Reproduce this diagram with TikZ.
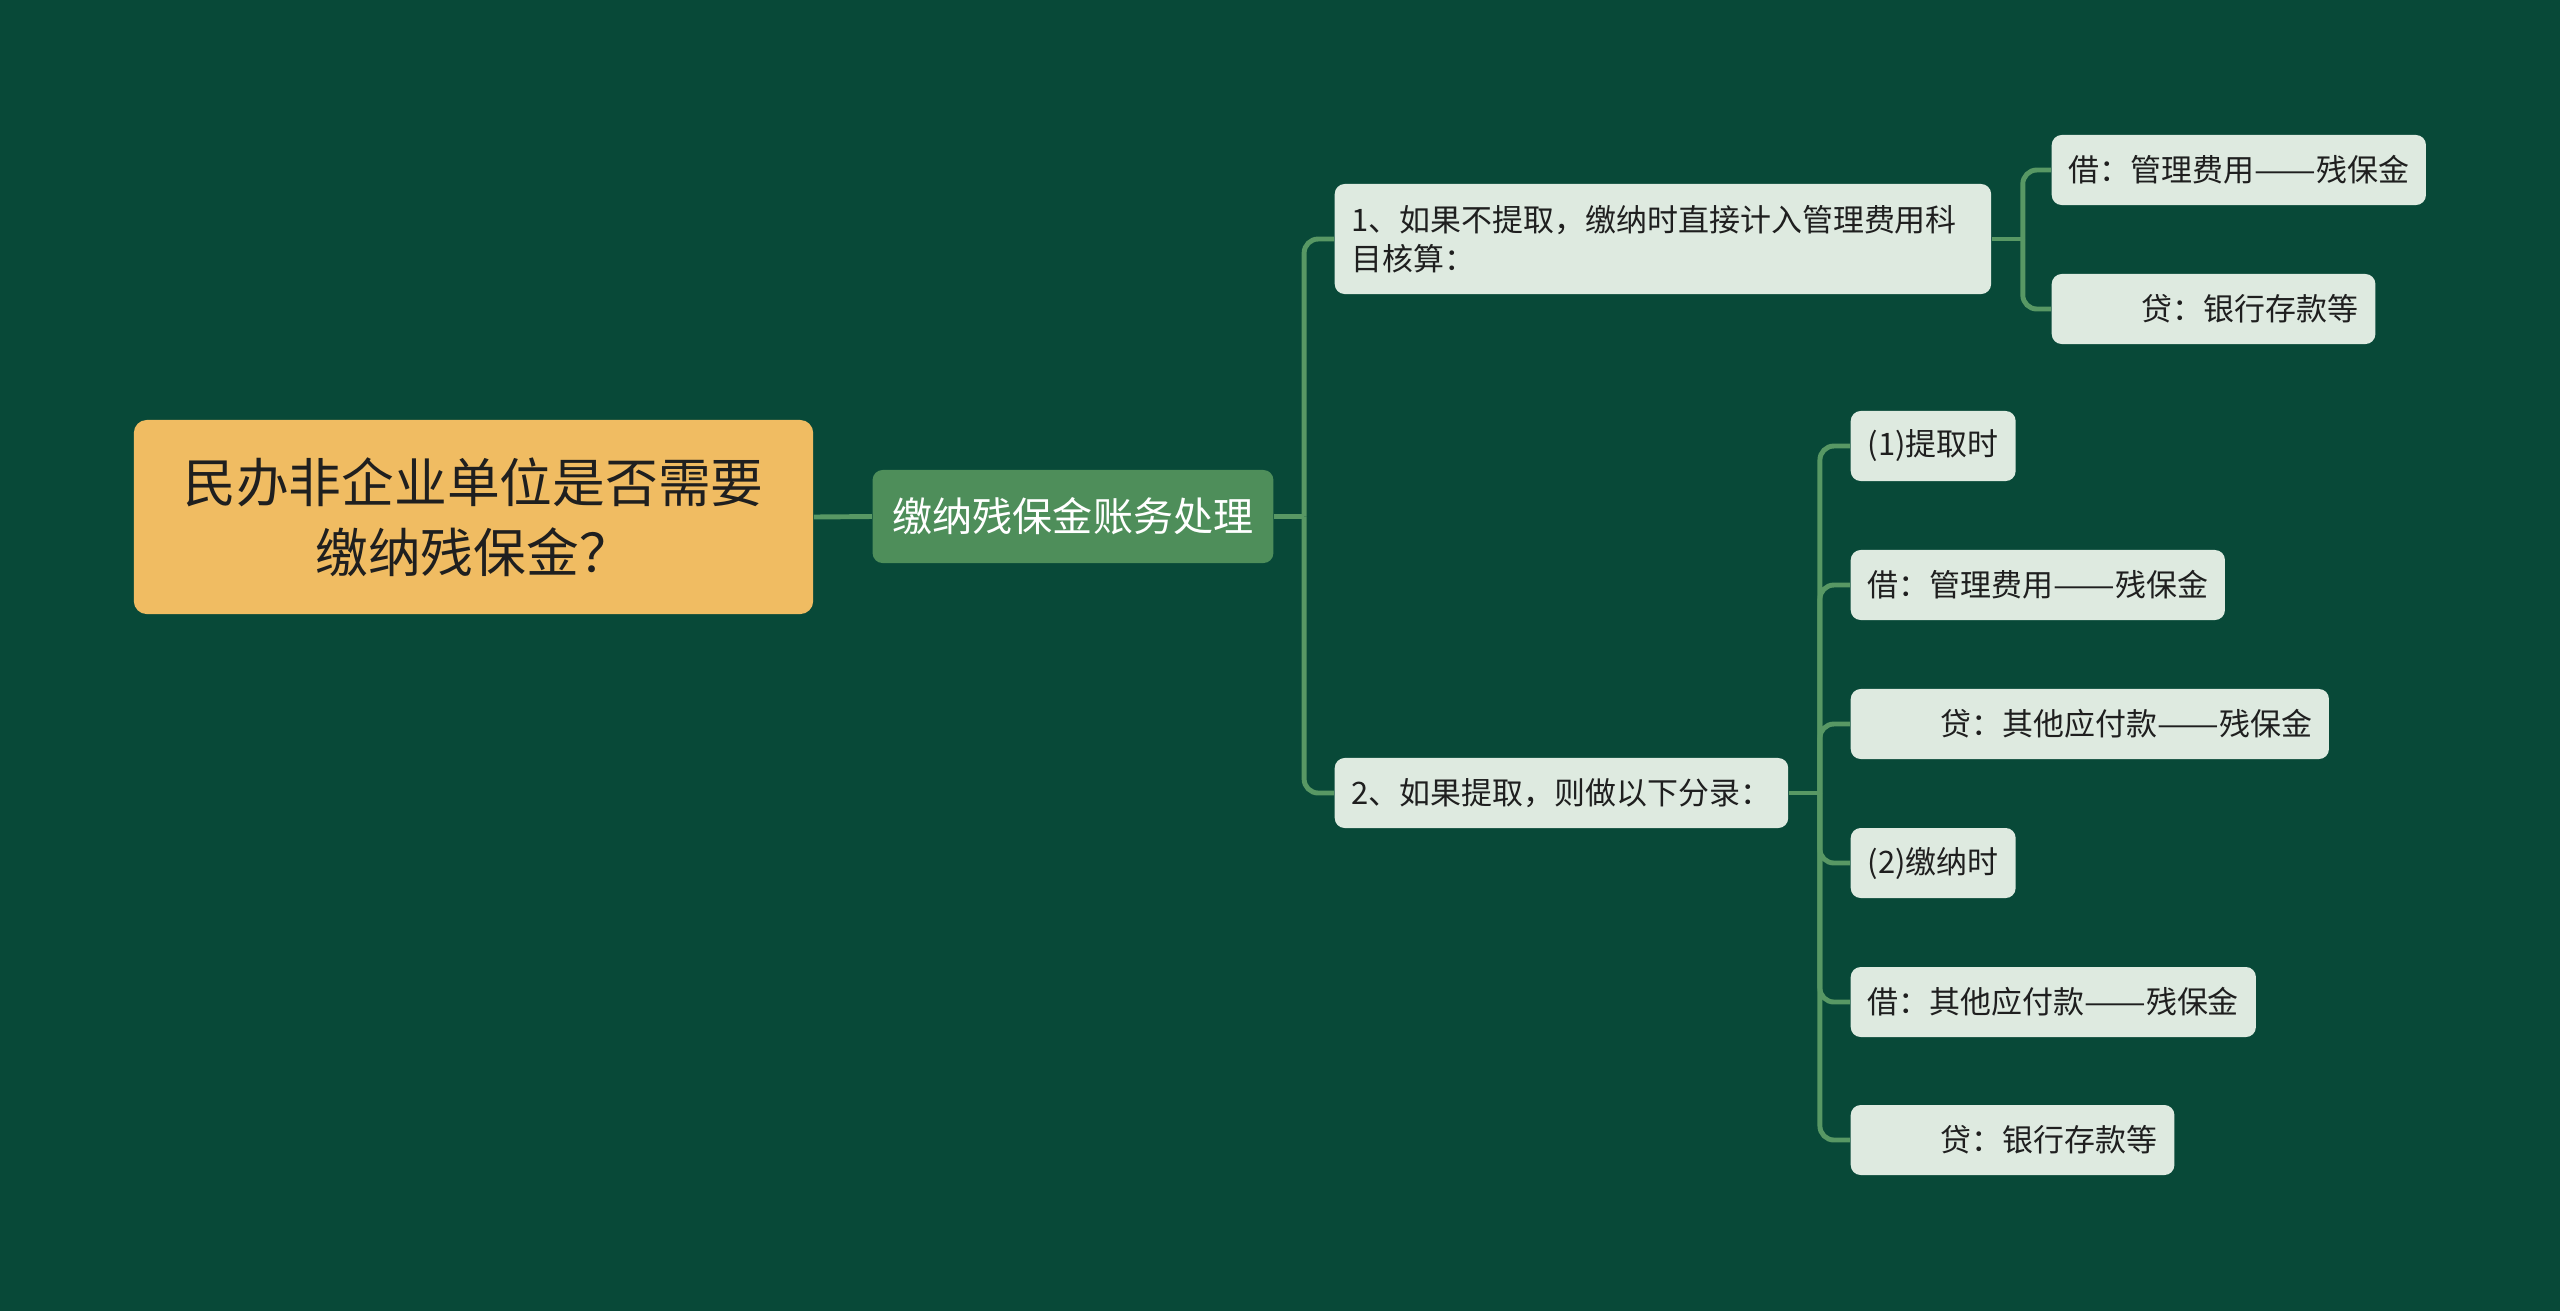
\documentclass[tikz,border=0pt]{standalone}
\usepackage{fontspec}
\usepackage{xcolor}
\usepackage{graphicx}
\usepackage{tikz}
\usetikzlibrary{positioning}
\newfontfamily\cjk{Noto Sans CJK SC}
\definecolor{bgdeep}{RGB}{8,73,56}
\definecolor{rootfill}{RGB}{240,188,98}
\definecolor{midfill}{RGB}{78,142,90}
\definecolor{leaffill}{RGB}{222,234,224}
\definecolor{linkgreen}{RGB}{88,152,100}
\newcommand{\indentgap}{\hspace*{0.73cm}}
\newcommand{\longdash}{\scalebox{1.19}[1]{——}}
\tikzset{
  card/.style={rounded corners=0.1cm, inner xsep=0.17cm, inner ysep=0pt, minimum height=0.70cm, text=black!88},
  link/.style={draw=linkgreen, line width=1.4pt, rounded corners=0.14cm}
}

\begin{document}
\begin{tikzpicture}[
    x=0.01cm, y=-0.01cm,
    root/.style={card, fill=rootfill, rounded corners=0.13cm, minimum width=6.79cm, minimum height=1.94cm, align=center, font=\fontsize{15}{19.9}\selectfont\cjk},
    mid/.style={card, fill=midfill, text=white, minimum height=0.93cm, inner xsep=0.2cm, font=\fontsize{11.4}{14}\selectfont\cjk},
    leaf/.style={card, fill=leaffill, anchor=west, font=\fontsize{8.8}{11.1}\selectfont\cjk}
  ]
    \fill[bgdeep] (0,0) rectangle (2560,1311);
    \path[use as bounding box] (0,0) rectangle (2560,1311);

    \node[root] (top) at (473.5,517) {民办非企业单位是否需要\\缴纳残保金？};
    \node[mid] (acct) at (1073,516.5) {缴纳残保金账务处理};

    \node[leaf, minimum height=1.10cm, text width=6.22cm, align=left] (ga) at (1334,239) {1、如果不提取，缴纳时直接计入管理费用科\\目核算：};
    \node[leaf] (gb) at (1334,793) {2、如果提取，则做以下分录：};

    \node[leaf] (a1) at (2051,170) {借：管理费用\longdash 残保金};
    \node[leaf] (a2) at (2051,309) {\indentgap 贷：银行存款等};

    \node[leaf] (b1) at (1850,446) {(1)提取时};
    \node[leaf] (b2) at (1850,585) {借：管理费用\longdash 残保金};
    \node[leaf] (b3) at (1850,724) {\indentgap 贷：其他应付款\longdash 残保金};
    \node[leaf] (b4) at (1850,863) {(2)缴纳时};
    \node[leaf] (b5) at (1850,1002) {借：其他应付款\longdash 残保金};
    \node[leaf] (b6) at (1850,1140) {\indentgap 贷：银行存款等};

    \draw[link] (top.east) -- (acct.west);

    \draw[link] (acct.east) -- ++(30,0) coordinate (hubacct);
    \foreach \n in {ga,gb}
      \draw[link] (hubacct) |- (\n.west);

    \draw[link] (ga.east) -- ++(31,0) coordinate (huba);
    \foreach \n in {a1,a2}
      \draw[link] (huba) |- (\n.west);

    \draw[link] (gb.east) -- ++(31,0) coordinate (hubb);
    \foreach \n in {b1,b2,b3,b4,b5,b6}
      \draw[link] (hubb) |- (\n.west);
  \end{tikzpicture}
\end{document}
